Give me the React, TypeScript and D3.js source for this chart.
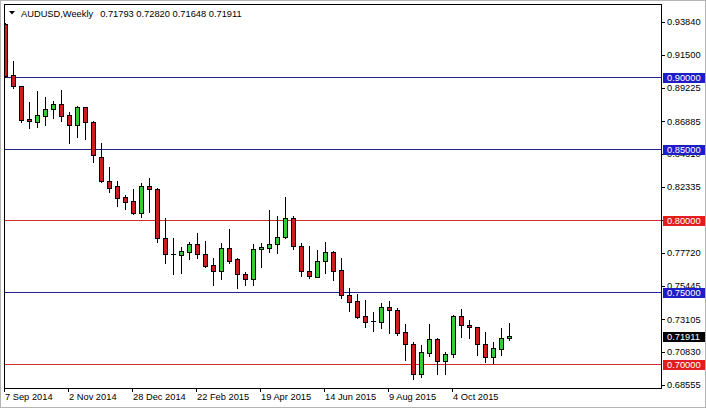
import React from "react";
import * as d3 from "d3";

// ---- data (weekly AUDUSD) ----
const startDate = new Date(2014, 8, 7);
const opens = [0.9367,0.9010,0.8935,0.8705,0.8687,0.8728,0.8773,0.8808,0.8733,0.8666,0.8787,0.8682,0.8443,0.8274,0.8239,0.8164,
  0.8134,0.8053,0.8239,0.8218,0.7875,0.7763,0.7756,0.7781,0.7835,0.7763,0.7689,0.7647,0.7805,0.7728,0.7624,0.7589,
  0.7798,0.7809,0.7833,0.7882,0.8014,0.7821,0.7647,0.7607,0.7717,0.7779,0.7654,0.7480,0.7438,0.7331,0.7299,0.7294,
  0.7398,0.7375,0.7220,0.7139,0.6930,0.7078,0.7171,0.7022,0.7067,0.7333,0.7271,0.7255,0.7136,0.7050,0.7104,0.71793];
const highs = [0.9375,0.9110,0.8938,0.8822,0.8900,0.8859,0.8831,0.8907,0.8756,0.8798,0.8792,0.8691,0.8536,0.8373,0.8274,0.8176,
  0.8218,0.8258,0.8297,0.8222,0.8018,0.7875,0.7812,0.7847,0.7914,0.7856,0.7735,0.7840,0.7937,0.7735,0.7642,0.7835,
  0.7844,0.8072,0.8030,0.8164,0.8030,0.7840,0.7821,0.7793,0.7851,0.7788,0.7735,0.7527,0.7485,0.7445,0.7364,0.7426,
  0.7438,0.7387,0.7278,0.7155,0.7132,0.7278,0.7178,0.7085,0.7340,0.7380,0.7306,0.7259,0.7220,0.7155,0.7248,0.72820];
const lows = [0.8995,0.8923,0.8687,0.8641,0.8648,0.8664,0.8715,0.8691,0.8536,0.8582,0.8566,0.8408,0.8269,0.8199,0.8100,0.8077,
  0.8042,0.8025,0.8060,0.7851,0.7705,0.7624,0.7635,0.7728,0.7735,0.7677,0.7550,0.7589,0.7701,0.7527,0.7550,0.7550,
  0.7677,0.7781,0.7774,0.7880,0.7798,0.7614,0.7596,0.7603,0.7631,0.7584,0.7457,0.7368,0.7322,0.7255,0.7231,0.7252,
  0.7213,0.7201,0.7027,0.6895,0.6907,0.7055,0.6930,0.6930,0.7050,0.7189,0.7178,0.7062,0.7015,0.7008,0.7062,0.71648];
const closes = [0.9005,0.8935,0.8698,0.8689,0.8733,0.8773,0.8808,0.8728,0.8666,0.8789,0.8682,0.8455,0.8274,0.8227,0.8157,0.8129,
  0.8053,0.8239,0.8216,0.7875,0.7763,0.7756,0.7786,0.7833,0.7763,0.7684,0.7647,0.7805,0.7719,0.7624,0.7589,0.7798,
  0.7812,0.7833,0.7882,0.8014,0.7821,0.7645,0.7610,0.7717,0.7779,0.7649,0.7480,0.7433,0.7329,0.7290,0.7290,0.7394,
  0.7373,0.7217,0.7136,0.6930,0.7081,0.7171,0.7022,0.7067,0.7333,0.7271,0.7255,0.7136,0.7050,0.7108,0.7178,0.71911];
const yTicks = [0.9384,0.915,0.89225,0.86885,0.8461,0.82335,0.80025,0.7772,0.75445,0.73105,0.7083,0.68555];
const blueLevels = [0.9, 0.85, 0.75];
const redLevels = [0.8, 0.7];
const symbolTitle = "AUDUSD,Weekly";
const dateTickEvery = 8;

const W = 706, H = 408;
const frame = { left: 4, right: 661, top: 4, bottom: 388 };
const FONT = "'Liberation Sans', Arial, sans-serif";
const FS = 9.3;
const RED = "#cc1e1e", GREEN = "#33cc33";
const LINE_BLUE = "#23238c", LINE_RED = "#c83030";
const BOX_BLUE = "#1e1ec8", BOX_RED = "#e01e1e";

export default function App() {
  const n = opens.length;
  const dates = d3.range(n).map((i) => d3.timeDay.offset(startDate, 7 * i));
  const x = d3.scaleLinear().domain([0, n - 1]).range([5, 5 + 8 * (n - 1)]);
  const y = d3.scaleLinear().domain([0.68322, 0.95063]).range([frame.bottom, frame.top]);
  const fmt = d3.format(".5f");
  const dfmt = d3.timeFormat("%-d %b %Y");
  const last = closes[n - 1];

  const candles = d3.range(n).map((i) => {
    const cx = Math.round(x(i));
    const o = opens[i], c = closes[i];
    const up = c >= o;
    const yt = Math.round(y(Math.max(o, c)));
    const yb = Math.round(y(Math.min(o, c)));
    const bh = Math.max(0, yb - yt);
    return (
      <g key={i}>
        <line x1={cx + 0.5} x2={cx + 0.5} y1={Math.round(y(highs[i]))} y2={Math.round(y(lows[i])) + 1} stroke="#000" strokeWidth={1} />
        {bh <= 1 ? (
          <line x1={cx - 2} x2={cx + 3} y1={yt + 0.5} y2={yt + 0.5} stroke="#000" strokeWidth={1} />
        ) : (
          <rect x={cx - 2 + 0.5} y={yt + 0.5} width={4} height={bh} fill={up ? GREEN : RED} stroke="#000" strokeWidth={1} />
        )}
      </g>
    );
  });

  const tickIdx = d3.range(0, n, dateTickEvery);

  return (
    <svg width={W} height={H} style={{ position: "absolute", left: 0, top: 0, background: "#fff" }} fontFamily={FONT}>
      <rect x={0.5} y={0.5} width={W - 1} height={H - 1} fill="#fff" stroke="#b4b4b4" />
      <defs>
        <clipPath id="plot">
          <rect x={frame.left} y={frame.top} width={frame.right - frame.left} height={frame.bottom - frame.top} />
        </clipPath>
      </defs>
      {blueLevels.map((v) => (
        <line key={"b" + v} x1={frame.left} x2={frame.right} y1={Math.round(y(v)) + 0.5} y2={Math.round(y(v)) + 0.5} stroke={LINE_BLUE} />
      ))}
      {redLevels.map((v) => (
        <line key={"r" + v} x1={frame.left} x2={frame.right} y1={Math.round(y(v)) + 0.5} y2={Math.round(y(v)) + 0.5} stroke={LINE_RED} />
      ))}
      <g clipPath="url(#plot)">{candles}</g>
      <rect x={frame.left + 0.5} y={frame.top + 0.5} width={frame.right - frame.left} height={frame.bottom - frame.top} fill="none" stroke="#000" />
      <path d="M9,11 L15,11 L12,14.5 Z" fill="#000" />
      <text x={21} y={17} fontSize={FS} fill="#000">
        {symbolTitle}
        <tspan dx={7}>{[opens[n - 1], highs[n - 1], lows[n - 1], closes[n - 1]].map(fmt).join(" ")}</tspan>
      </text>
      {yTicks.map((v) => (
        <g key={"t" + v}>
          <line x1={frame.right + 1} x2={frame.right + 4} y1={Math.round(y(v)) + 0.5} y2={Math.round(y(v)) + 0.5} stroke="#000" />
          <text x={667} y={y(v)} dy="0.35em" fontSize={FS} fill="#000">{fmt(v)}</text>
        </g>
      ))}
      {[...blueLevels.map((v) => [v, BOX_BLUE] as [number, string]), ...redLevels.map((v) => [v, BOX_RED] as [number, string]), [last, "#000"] as [number, string]].map(([v, col]) => (
        <g key={"box" + v}>
          <rect x={663} y={Math.round(y(v)) - 4} width={42} height={10} fill={col} />
          <text x={667} y={Math.round(y(v)) + 1} dy="0.35em" fontSize={FS} fill="#fff">{fmt(v)}</text>
        </g>
      ))}
      {tickIdx.map((i) => (
        <g key={"d" + i}>
          <line x1={Math.round(x(i)) - 0.5} x2={Math.round(x(i)) - 0.5} y1={frame.bottom + 1} y2={frame.bottom + 4} stroke="#000" />
          <text x={Math.round(x(i))} y={400} fontSize={FS} fill="#000">{dfmt(dates[i])}</text>
        </g>
      ))}
    </svg>
  );
}
